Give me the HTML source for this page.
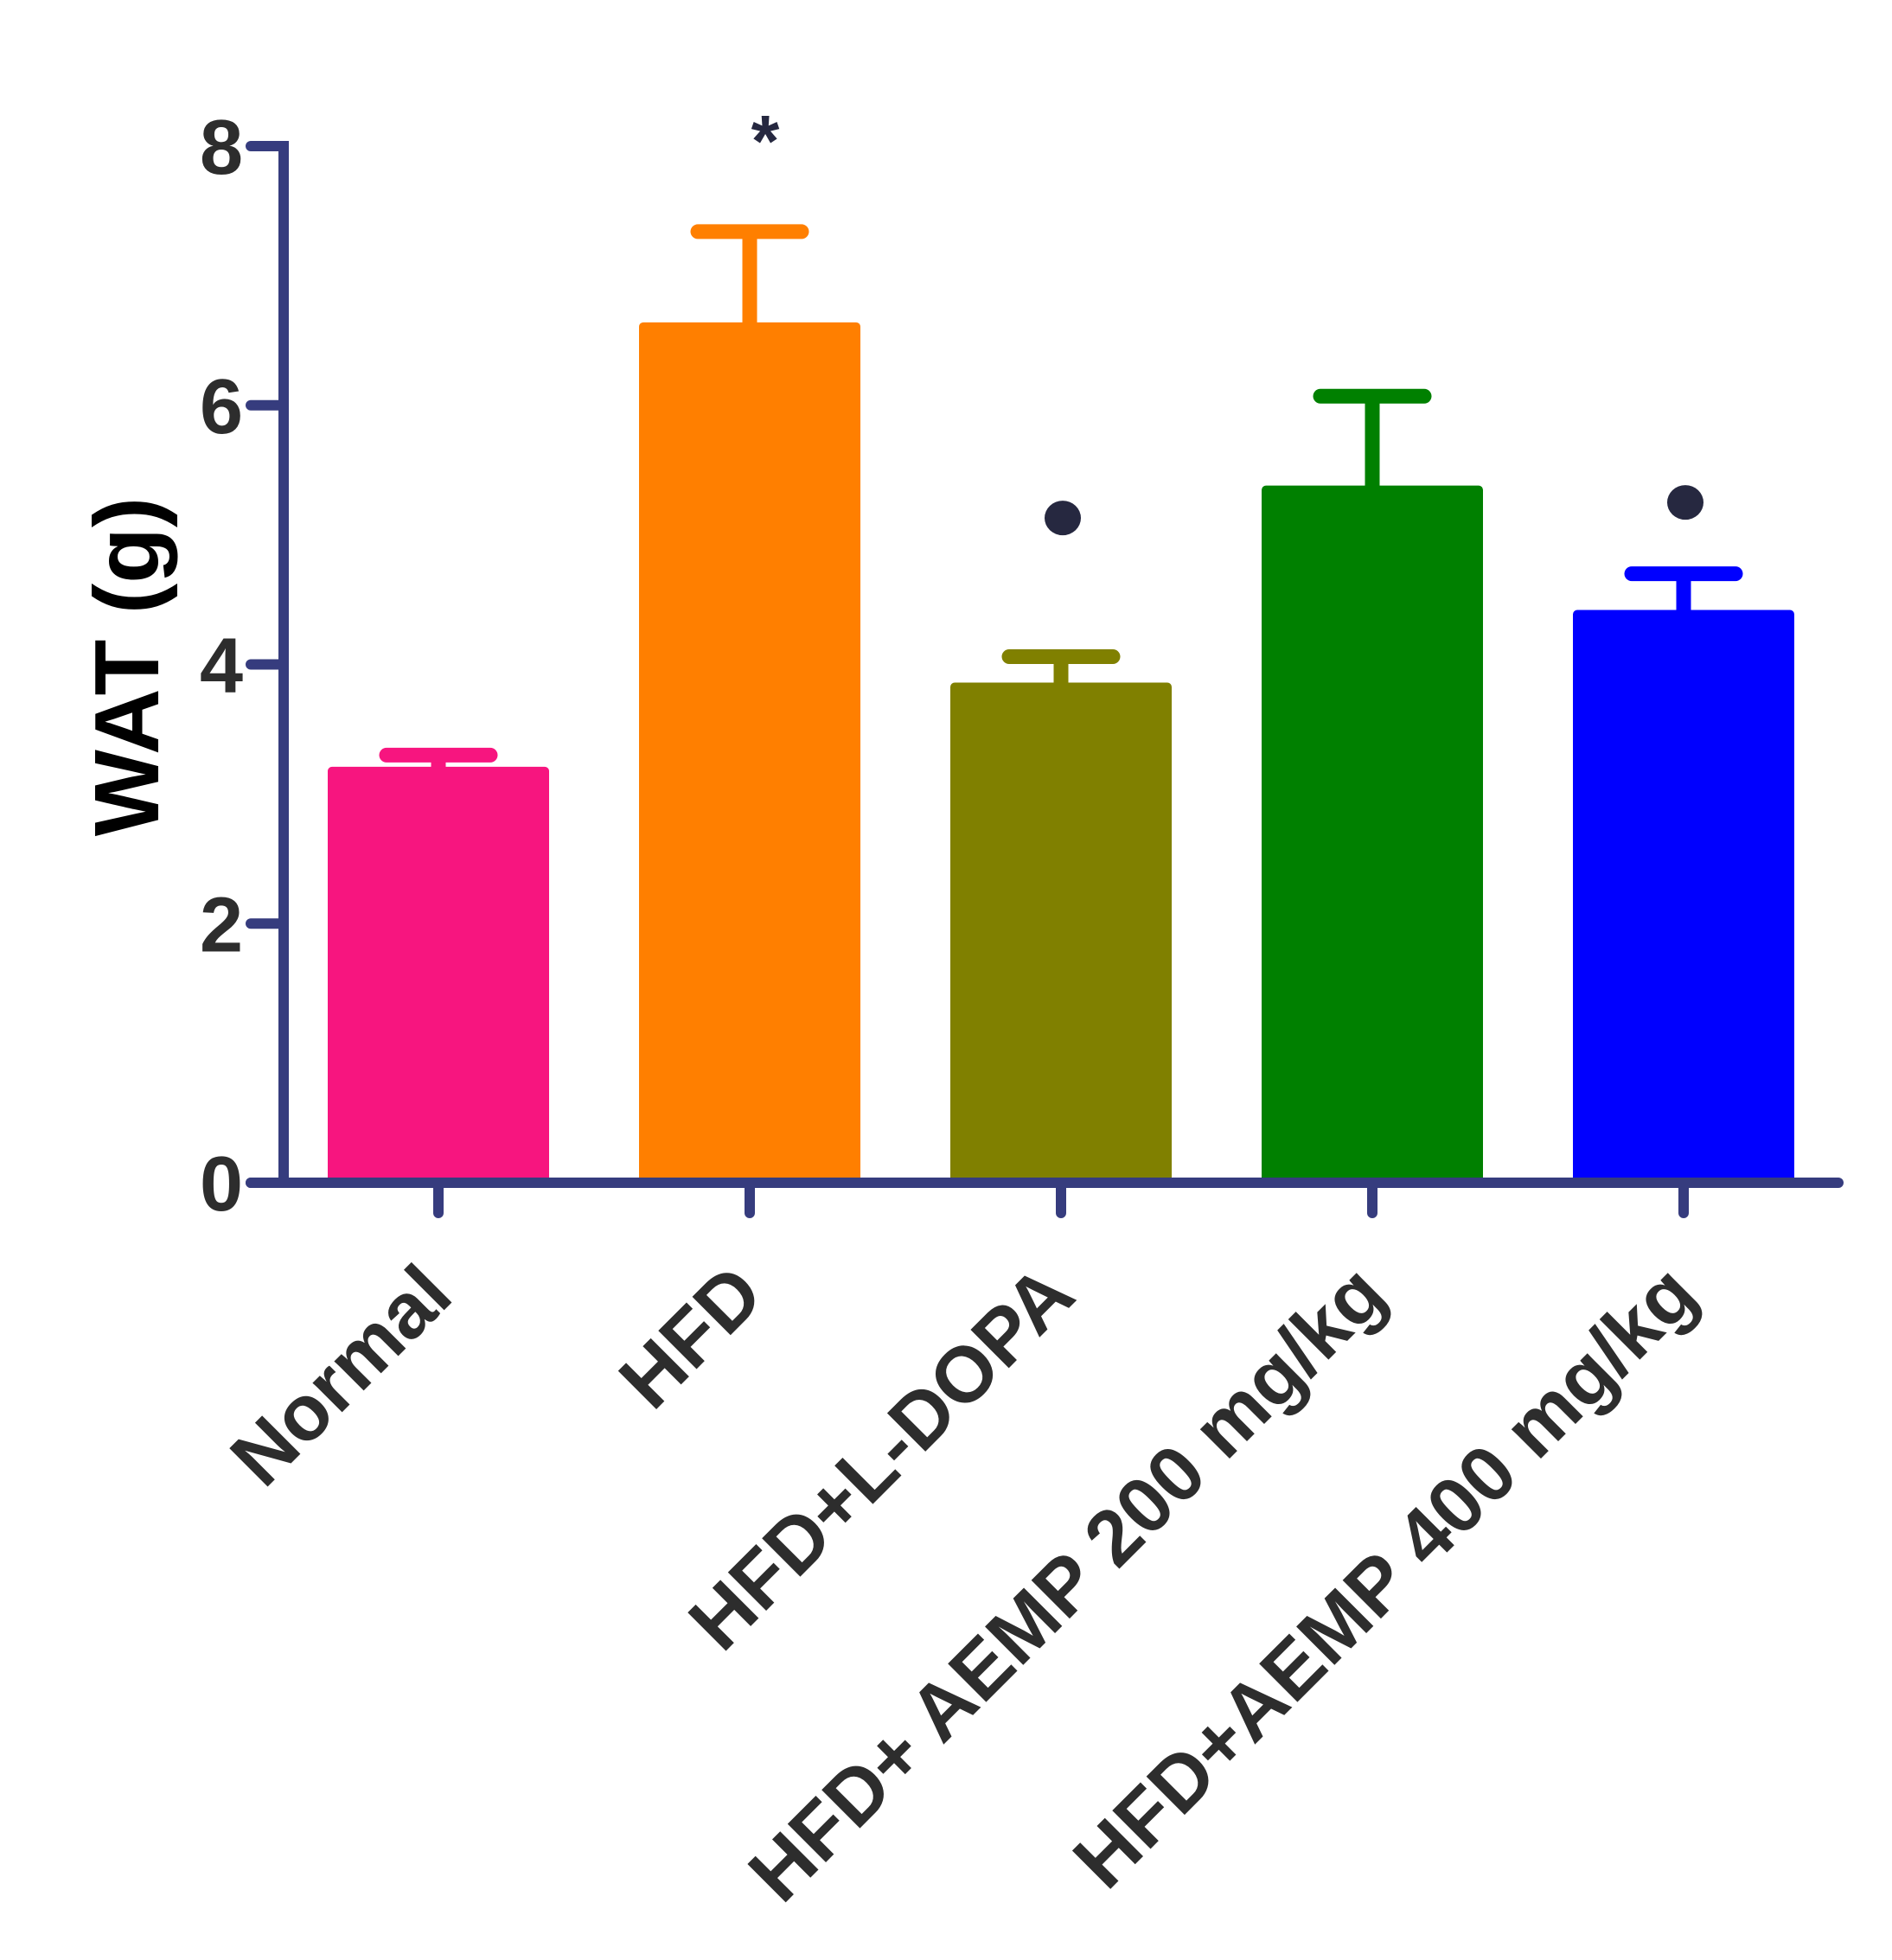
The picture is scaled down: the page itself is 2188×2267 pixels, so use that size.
<!DOCTYPE html>
<html><head><meta charset="utf-8">
<style>html,body{margin:0;padding:0;background:#fff;}svg{display:block;}</style>
</head><body>
<svg id="chart" width="2188" height="2267" viewBox="0 0 2188 2267" xmlns="http://www.w3.org/2000/svg" font-family="'Liberation Sans', Arial, sans-serif" font-weight="bold"></svg>
<script>
const categories = ["Normal", "HFD", "HFD+L-DOPA", "HFD+ AEMP 200 mg/kg", "HFD+AEMP 400 mg/kg"];
const means = [3.21, 6.64, 3.86, 5.38, 4.42];
const errors = [0.09, 0.70, 0.20, 0.69, 0.28];
const colors = ["#f7157f", "#ff7f00", "#808000", "#008000", "#0000ff"];
const yTicks = [0, 2, 4, 6, 8];
const markers = ["", "*", "dot", "", "dot"];
const markerValues = [0, 8.1, 5.13, 0, 5.25];

const NS = "http://www.w3.org/2000/svg";
const svg = document.getElementById("chart");
const AX = "#363c7e";
const y0 = 1368, yTop = 169, yMax = 8;
function yScale(v){ return y0 - (v / yMax) * (y0 - yTop); }
const firstCenter = 507, step = 360, barW = 256;
function xScale(i){ return firstCenter + i * step; }
function mk(tag, attrs){ const e = document.createElementNS(NS, tag); for (const k in attrs) e.setAttribute(k, attrs[k]); svg.appendChild(e); return e; }

categories.forEach((c, i) => {
  const cx = xScale(i), top = yScale(means[i]);
  const b = mk("rect", {x: cx - barW/2, y: top, width: barW, height: y0 - top, rx: 5, fill: colors[i]});
  
  
  const eTop = yScale(means[i] + errors[i]);
  const s = mk("line", {x1: cx, x2: cx, y1: top + 2, y2: eTop, stroke: colors[i], "stroke-width": 17});
  
  
  const cap = mk("line", {x1: cx - 60, x2: cx + 60, y1: eTop, y2: eTop, stroke: colors[i], "stroke-width": 17, "stroke-linecap": "round"});
  
  
  if (markers[i] === "dot") {
    const d = mk("ellipse", {cx: cx + 2, cy: yScale(markerValues[i]), rx: 21, ry: 20, fill: "#262840"});
    
    
  } else if (markers[i] === "*") {
    const t = mk("text", {x: cx + 18, y: yScale(markerValues[i]) + 38, "text-anchor": "middle", "font-size": 84, fill: "#262840"});
    t.textContent = "*";
    
    
  }
  const tk = mk("line", {x1: cx, x2: cx, y1: y0, y2: 1403, stroke: AX, "stroke-width": 12, "stroke-linecap": "round"});
  
  
  const lx = cx + 20, ly = 1502;
  const lab = mk("text", {x: lx, y: ly, "text-anchor": "end", "font-size": 91, fill: "#2d2d2d", transform: `rotate(-45 ${lx} ${ly})`});
  lab.textContent = c;
  
  
});

const ya = mk("line", {x1: 328, x2: 328, y1: yTop - 6, y2: y0 + 6, stroke: AX, "stroke-width": 12});


const xa = mk("line", {x1: 290, x2: 2126, y1: y0, y2: y0, stroke: AX, "stroke-width": 12, "stroke-linecap": "round"});


yTicks.forEach(v => {
  const y = yScale(v);
  const t = mk("line", {x1: 290, x2: 328, y1: y, y2: y, stroke: AX, "stroke-width": 12, "stroke-linecap": "round"});
  
  
  const l = mk("text", {x: 281, y: y + 32, "text-anchor": "end", "font-size": 90, fill: "#2d2d2d"});
  l.textContent = String(v);
  
  
});
const yt = mk("text", {x: 183, y: 771, "text-anchor": "middle", "font-size": 106, fill: "#000", transform: "rotate(-90 183 771)"});
yt.textContent = "WAT (g)";


</script>
</body></html>
